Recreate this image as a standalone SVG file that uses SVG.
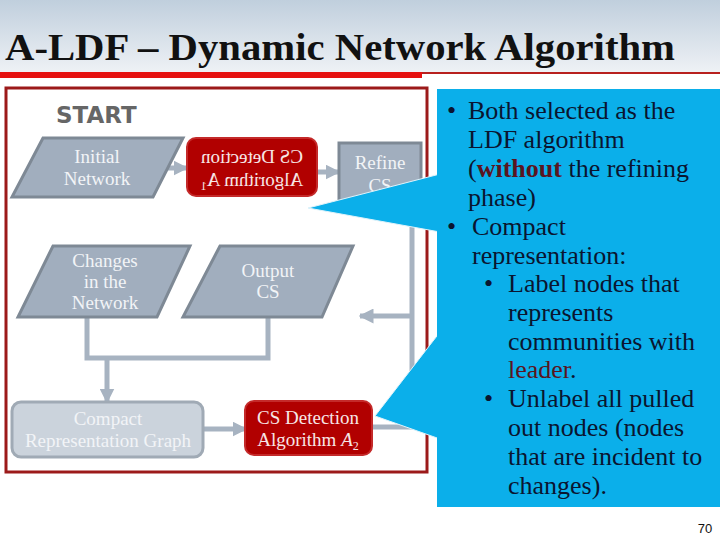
<svg xmlns="http://www.w3.org/2000/svg" width="720" height="540" viewBox="0 0 720 540">
<defs>
<linearGradient id="hdr" x1="0" y1="0" x2="0" y2="1">
<stop offset="0" stop-color="#c0cfdd"/>
<stop offset="1" stop-color="#eef1f5"/>
</linearGradient>
<marker id="ah" viewBox="0 0 10 10" refX="9" refY="5" markerWidth="3" markerHeight="3" orient="auto" markerUnits="strokeWidth">
<path d="M0,0 L10,5 L0,10 z" fill="#a7b3c1"/>
</marker>
<style>
.io{fill:#a1aebe;stroke:#7e8995;stroke-width:3;stroke-linejoin:miter}
.alg{fill:#b10000;stroke:#c42a2a;stroke-width:2}
.nt{font-family:"Liberation Serif",serif;font-size:19px;fill:#f2f4f7;text-anchor:middle}
.at{font-family:"Liberation Serif",serif;font-size:19px;fill:#f7e6e6;text-anchor:middle}
.cn{fill:none;stroke:#a7b3c1;stroke-width:5}
.ct{font-family:"Liberation Serif",serif;font-size:26px;fill:#0a1530}
.hl{fill:#5a1420}
</style>
</defs>
<rect x="0" y="0" width="720" height="540" fill="#ffffff"/>
<rect x="0" y="0" width="720" height="72" fill="url(#hdr)"/>
<text x="5" y="60" font-family="Liberation Serif, serif" font-size="38" font-weight="bold" fill="#111111" textLength="670" lengthAdjust="spacingAndGlyphs">A-LDF – Dynamic Network Algorithm</text>
<rect x="0" y="72" width="422" height="6" fill="#e5100f"/>
<rect x="422" y="72" width="298" height="2" fill="#b8201e"/>

<rect id="frame" x="6" y="88" width="421" height="384" fill="none" stroke="#9c1a1a" stroke-width="3"/>

<text x="56" y="123" font-family="DejaVu Sans, sans-serif" font-weight="bold" font-size="23" fill="#666666">START</text>

<g id="connectors">
<line class="cn" x1="158" y1="168" x2="187" y2="168" marker-end="url(#ah)"/>
<line class="cn" x1="317" y1="172" x2="339" y2="172" marker-end="url(#ah)"/>
<polyline class="cn" points="412,200 412,427 372,427"/>
<line class="cn" x1="412" y1="316" x2="360" y2="316" marker-end="url(#ah)"/>
<polyline class="cn" points="87,317 87,358 268,358 268,317"/>
<line class="cn" x1="107" y1="358" x2="107" y2="402" marker-end="url(#ah)"/>
<line class="cn" x1="203" y1="429" x2="246" y2="429" marker-end="url(#ah)"/>
</g>

<g id="initial-network">
<polygon class="io" points="43,138 183,138 153,197 12,197"/>
<text class="nt" x="97" y="163">Initial</text>
<text class="nt" x="97" y="185">Network</text>
</g>

<g id="cs-detection-a1">
<rect class="alg" x="187" y="138" width="130" height="58" rx="9"/>
<g transform="translate(504,0) scale(-1,1)">
<text class="at" x="252" y="163">CS Detection</text>
<text class="at" x="252" y="186">Algorithm A<tspan font-size="12" dy="4">1</tspan></text>
</g>
</g>

<g id="refine-cs">
<rect class="io" x="339" y="143" width="82" height="60"/>
<text class="nt" x="380" y="169">Refine</text>
<text class="nt" x="380" y="192">CS</text>
</g>

<g id="changes">
<polygon class="io" points="53,246 190,246 157,317 18,317"/>
<text class="nt" x="105" y="267">Changes</text>
<text class="nt" x="105" y="288">in the</text>
<text class="nt" x="105" y="309">Network</text>
</g>

<g id="output-cs">
<polygon class="io" points="220,246 353,246 322,317 183,317"/>
<text class="nt" x="268" y="277">Output</text>
<text class="nt" x="268" y="298">CS</text>
</g>

<g id="compact">
<rect x="12" y="402" width="191" height="55" rx="9" fill="#cbd3dc" stroke="#a0aab5" stroke-width="3"/>
<text class="nt" x="108" y="425">Compact</text>
<text class="nt" x="108" y="447">Representation Graph</text>
</g>

<g id="cs-detection-a2">
<rect class="alg" x="245" y="401" width="127" height="54" rx="9"/>
<text class="at" x="308" y="424">CS Detection</text>
<text class="at" x="308" y="446">Algorithm <tspan font-style="italic">A</tspan><tspan font-size="12" dy="4">2</tspan></text>
</g>

<g id="callout">
<polygon points="308,208 440,174 440,232" fill="#0bafea" stroke="#dff3fb" stroke-width="1"/>
<polygon points="375,416 440,332 440,439" fill="#0bafea" stroke="#dff3fb" stroke-width="1"/>
<rect x="437" y="89" width="283" height="418" fill="#0bafea"/>
<g class="ct">
<text x="447" y="119">•</text><text x="468" y="119">Both selected as the</text>
<text x="468" y="148">LDF algorithm</text>
<text x="468" y="177">(<tspan class="hl" font-weight="bold">without</tspan> the refining</text>
<text x="468" y="206">phase)</text>
<text x="447" y="235">•</text><text x="472" y="235">Compact</text>
<text x="472" y="264">representation:</text>
<text x="484" y="292">•</text><text x="508" y="292">Label nodes that</text>
<text x="508" y="321">represents</text>
<text x="508" y="350">communities with</text>
<text x="508" y="378"><tspan class="hl">leader</tspan>.</text>
<text x="484" y="407">•</text><text x="508" y="407">Unlabel all pulled</text>
<text x="508" y="436">out nodes (nodes</text>
<text x="508" y="465">that are incident to</text>
<text x="508" y="494">changes).</text>
</g>
</g>

<text x="705" y="533" font-family="Liberation Sans, sans-serif" font-size="13" fill="#111111" text-anchor="middle">70</text>
</svg>
